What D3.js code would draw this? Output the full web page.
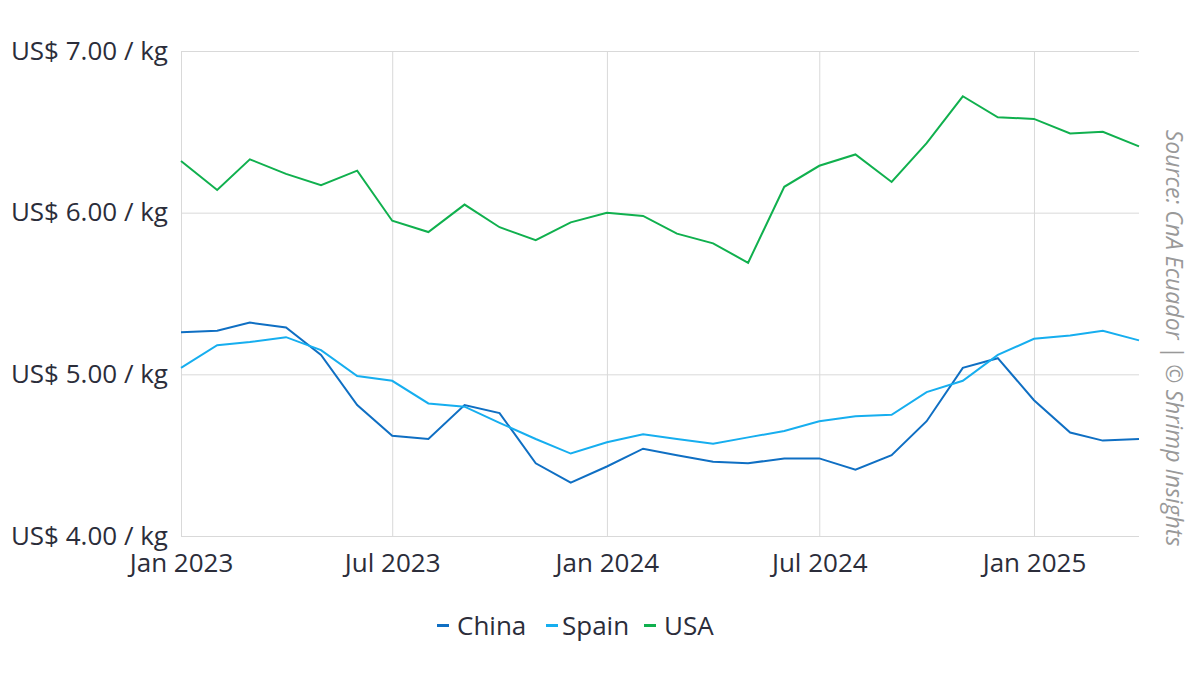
<!DOCTYPE html>
<html>
<head>
<meta charset="utf-8">
<script src="https://cdn.jsdelivr.net/npm/d3@7"></script>
<style>
  body { margin: 0; background: #fff; }
  svg text { font-family: "Open Sans", "Noto Sans", sans-serif; }
</style>
</head>
<body>
<div id="chart-container"></div>
<script>
// monthly export price, Jan 2023 .. Apr 2025
var months = ["2023-01","2023-02","2023-03","2023-04","2023-05","2023-06","2023-07","2023-08","2023-09","2023-10","2023-11","2023-12",
  "2024-01","2024-02","2024-03","2024-04","2024-05","2024-06","2024-07","2024-08","2024-09","2024-10","2024-11","2024-12",
  "2025-01","2025-02","2025-03","2025-04"];

var china = [5.26,5.27,5.32,5.29,5.12,4.81,4.62,4.60,4.81,4.76,4.45,4.33,
  4.43,4.54,4.50,4.46,4.45,4.48,4.48,4.41,4.50,4.71,5.04,5.10,
  4.84,4.64,4.59,4.60];
var spain = [5.04,5.18,5.20,5.23,5.15,4.99,4.96,4.82,4.80,4.70,4.60,4.51,
  4.58,4.63,4.60,4.57,4.61,4.65,4.71,4.74,4.75,4.89,4.96,5.12,
  5.22,5.24,5.27,5.21];
var usa = [6.32,6.14,6.33,6.24,6.17,6.26,5.95,5.88,6.05,5.91,5.83,5.94,
  6.00,5.98,5.87,5.81,5.69,6.16,6.29,6.36,6.19,6.43,6.72,6.59,
  6.58,6.49,6.50,6.41];

var seriesNames = ["China", "Spain", "USA"];
var seriesColors = ["#0f6fc3", "#16aeef", "#10b04e"];
var yTicks = [4, 5, 6, 7];
var xTicks = ["2023-01","2023-07","2024-01","2024-07","2025-01"];

var width = 1200,
    height = 675;
var margin = {top: 51, right: 61, bottom: 139, left: 181};
var parse = d3.timeParse("%Y-%m");

var x = d3.scaleTime()
  .domain([parse(months[0]), parse(months[months.length - 1])])
  .range([margin.left, width - margin.right]);

var y = d3.scaleLinear()
  .domain([4, 7])
  .range([height - margin.bottom, margin.top]);

var svg = d3.select("#chart-container")
  .append("svg")
    .attr("width", width)
    .attr("height", height);

// horizontal grid + y labels
var yAxis = svg.append("g")
  .attr("transform", "translate(" + margin.left + ",0)")
  .call(d3.axisLeft(y).tickValues(yTicks)
    .tickSize(-(width - margin.left - margin.right))
    .tickPadding(13)
    .tickFormat(function(d) { return "US$ " + d3.format(".2f")(d) + " / kg"; }));
yAxis.select(".domain").remove();
yAxis.selectAll(".tick line").attr("stroke", "#d9d9d9").attr("stroke-width", 1);
yAxis.selectAll(".tick text")
  .attr("fill", "#2b2d3a")
  .style("font-size", "26px");

// vertical grid + x labels
var xAxis = svg.append("g")
  .attr("transform", "translate(0," + (height - margin.bottom) + ")")
  .call(d3.axisBottom(x).tickValues(xTicks.map(parse))
    .tickSize(-(height - margin.top - margin.bottom))
    .tickPadding(18)
    .tickFormat(d3.timeFormat("%b %Y")));
xAxis.select(".domain").remove();
xAxis.selectAll(".tick line").attr("stroke", "#d9d9d9").attr("stroke-width", 1);
xAxis.selectAll(".tick text")
  .attr("fill", "#2b2d3a")
  .style("font-size", "26px");

// lines
var data = [china, spain, usa];
var line = d3.line()
  .x(function(d, i) { return x(parse(months[i])); })
  .y(function(d) { return y(d); });

svg.selectAll("path.series")
  .data(data)
  .enter()
  .append("path")
    .attr("class", "series")
    .attr("fill", "none")
    .attr("stroke", function(d, i) { return seriesColors[i]; })
    .attr("stroke-width", 2)
    .attr("stroke-linejoin", "miter")
    .attr("d", line);

// legend
var legend = svg.append("g").attr("transform", "translate(0,626)");
var legendX = [437, 546, 644];
var item = legend.selectAll("g")
  .data(seriesNames)
  .enter()
  .append("g")
    .attr("transform", function(d, i) { return "translate(" + legendX[i] + ",0)"; });
item.append("rect")
  .attr("x", 0).attr("y", -2)
  .attr("width", 12).attr("height", 3)
  .attr("fill", function(d, i) { return seriesColors[i]; });
item.append("text")
  .attr("x", function(d, i) { return i === 1 ? 16 : 20; })
  .attr("dy", "0.35em")
  .attr("fill", "#2b2d3a")
  .style("font-size", "26px")
  .text(function(d) { return d; });

// source note
svg.append("text")
  .attr("transform", "translate(1166,338) rotate(90)")
  .attr("text-anchor", "middle")
  .attr("fill", "#999")
  .style("font-size", "23px")
  .style("font-style", "italic")
  .text("Source: CnA Ecuador | © Shrimp Insights");
</script>
</body>
</html>
